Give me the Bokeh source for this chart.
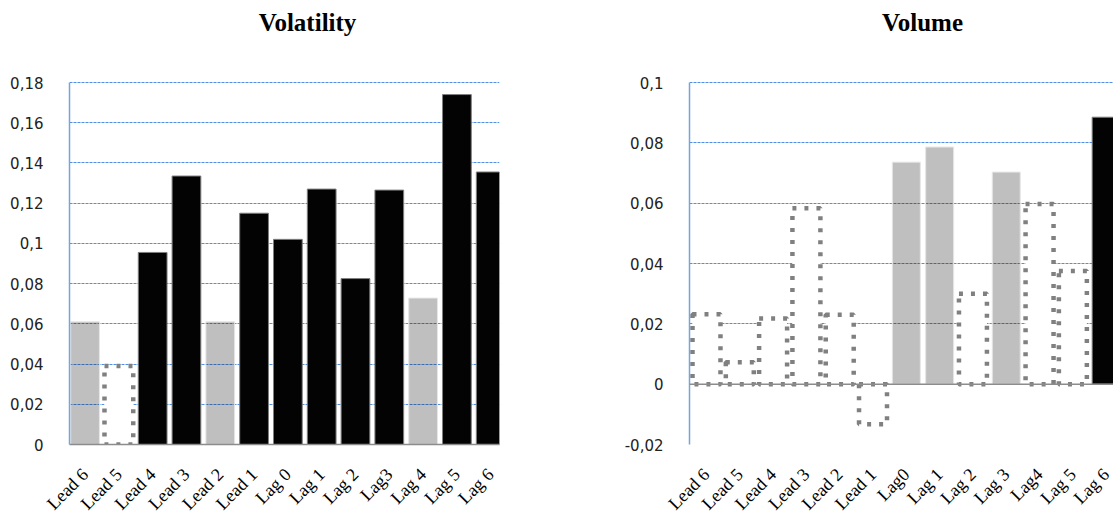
import math
from bokeh.plotting import figure
from bokeh.models import FixedTicker, Span, ColumnDataSource, Range1d, Label
from bokeh.layouts import row
from bokeh.embed import file_html
from bokeh.resources import INLINE

# ---------------- data ----------------
title_left = "Volatility"
title_right = "Volume"

categories_volatility = ["Lead 6", "Lead 5", "Lead 4", "Lead 3", "Lead 2", "Lead 1",
                         "Lag 0", "Lag 1", "Lag 2", "Lag3", "Lag 4", "Lag 5", "Lag 6"]
volatility = [0.061, 0.039, 0.0955, 0.1335, 0.061, 0.115, 0.102,
              0.127, 0.0825, 0.1265, 0.0728, 0.174, 0.1355]
volatility_class = ["gray", "dotted", "black", "black", "gray", "black", "black",
                    "black", "black", "black", "gray", "black", "black"]

categories_volume = ["Lead 6", "Lead 5", "Lead 4", "Lead 3", "Lead 2", "Lead 1",
                     "Lag0", "Lag 1", "Lag 2", "Lag 3", "Lag4", "Lag 5", "Lag 6"]
volume = [0.0232, 0.0073, 0.0218, 0.0583, 0.023, -0.0133, 0.0736,
          0.0786, 0.030, 0.0703, 0.0597, 0.0375, 0.0885]
volume_class = ["dotted", "dotted", "dotted", "dotted", "dotted", "dotted", "gray",
                "gray", "dotted", "gray", "dotted", "dotted", "black"]

volatility_ticks = [0, 0.02, 0.04, 0.06, 0.08, 0.1, 0.12, 0.14, 0.16, 0.18]
volatility_tick_labels = ["0", "0,02", "0,04", "0,06", "0,08", "0,1", "0,12", "0,14", "0,16", "0,18"]
volume_ticks = [-0.02, 0, 0.02, 0.04, 0.06, 0.08, 0.1]
volume_tick_labels = ["-0,02", "0", "0,02", "0,04", "0,06", "0,08", "0,1"]

# ---------------- styling ----------------
GRID_BLUE = "#4f8fe6"
AXIS_BLUE = "#7aa3dc"
ZERO_GRAY = "#8c8c8c"
DOT_GRAY = "#808080"

FRAME_H = 444          # frame spans from canvas top to the bottom axis
AXIS_SPAN_PX = 362     # pixel height of the tick span (first to last tick)


def add_bars(p, cats, vals, classes, width):
    xs = list(range(len(cats)))
    for cls in ["gray", "black", "dotted"]:
        sel = [i for i, c in enumerate(classes) if c == cls]
        if not sel:
            continue
        src = ColumnDataSource(dict(x=[xs[i] for i in sel], top=[vals[i] for i in sel]))
        if cls == "gray":
            p.vbar(x="x", top="top", bottom=0, width=width, source=src,
                   fill_color="black", fill_alpha=0.25, line_color="#e6e6e6", line_width=1)
        elif cls == "black":
            p.vbar(x="x", top="top", bottom=0, width=width, source=src,
                   fill_color="#030303", line_color="#7f7f7f", line_width=1)
        else:
            p.vbar(x="x", top="top", bottom=0, width=width, source=src,
                   fill_color="white", line_color=DOT_GRAY, line_width=4.5,
                   line_dash="4 8", line_cap="butt")


def make_fig(cats, vals, classes, ticks, tick_labels, x_start, x_end,
             border_left, border_right, frame_width, bar_width, title, title_x,
             zero_axis):
    lo, hi = ticks[0], ticks[-1]
    y_top = lo + (hi - lo) * FRAME_H / AXIS_SPAN_PX
    p = figure(frame_width=frame_width, frame_height=FRAME_H,
               x_range=Range1d(x_start, x_end), y_range=Range1d(lo, y_top),
               min_border_left=border_left, min_border_right=border_right,
               min_border_top=0, min_border_bottom=77,
               output_backend="svg", toolbar_location=None)
    p.outline_line_color = None
    p.background_fill_color = "white"
    p.border_fill_color = "white"
    p.title.visible = False

    p.add_layout(Label(x=title_x, y=FRAME_H - 22, x_units="screen", y_units="screen",
                       text=title, text_align="center", text_baseline="middle",
                       text_font="Liberation Serif", text_font_style="bold",
                       text_font_size="25px", text_color="black"))

    # y axis
    p.yaxis.ticker = FixedTicker(ticks=ticks)
    p.yaxis.bounds = (lo, hi)
    p.yaxis.major_label_overrides = {t: l for t, l in zip(ticks, tick_labels)}
    p.yaxis.axis_line_color = AXIS_BLUE
    p.yaxis.axis_line_width = 1.5
    p.yaxis.major_tick_line_color = None
    p.yaxis.minor_tick_line_color = None
    p.yaxis.major_label_standoff = 20
    p.yaxis.major_label_text_font = "DejaVu Sans"
    p.yaxis.major_label_text_font_size = "15px"
    p.yaxis.major_label_text_color = "#222222"

    # x axis
    p.xaxis.ticker = FixedTicker(ticks=list(range(len(cats))))
    p.xaxis.major_label_overrides = {i: c for i, c in enumerate(cats)}
    p.xaxis.major_label_orientation = math.pi / 4
    p.xaxis.major_tick_line_color = None
    p.xaxis.minor_tick_line_color = None
    p.xaxis.major_label_standoff = 21
    p.xaxis.major_label_text_font = "Liberation Serif"
    p.xaxis.major_label_text_font_size = "18px"
    p.xaxis.major_label_text_color = "black"
    if zero_axis:
        p.xaxis.axis_line_color = ZERO_GRAY
        p.xaxis.axis_line_width = 1.5
    else:
        p.xaxis.axis_line_color = None

    # grid
    p.xgrid.grid_line_color = None
    p.ygrid.ticker = FixedTicker(ticks=ticks)
    p.ygrid.grid_line_color = GRID_BLUE
    p.ygrid.grid_line_width = 1
    p.ygrid.grid_line_dash = "3 1"

    add_bars(p, cats, vals, classes, bar_width)

    if not zero_axis:
        p.add_layout(Span(location=0, dimension="width", line_color=ZERO_GRAY, line_width=1.5))
    return p


left = make_fig(categories_volatility, volatility, volatility_class,
                volatility_ticks, volatility_tick_labels,
                -0.46, 12.26, 69, 60, 430, 0.85, title_left, 307 - 69, True)
right = make_fig(categories_volume, volume, volume_class,
                 volume_ticks, volume_tick_labels,
                 -0.51, 12.22, 130, 0, 424, 0.84, title_right, 922 - 689, False)

layout = row(left, right)
open("out.html", "w").write(file_html(layout, INLINE))
